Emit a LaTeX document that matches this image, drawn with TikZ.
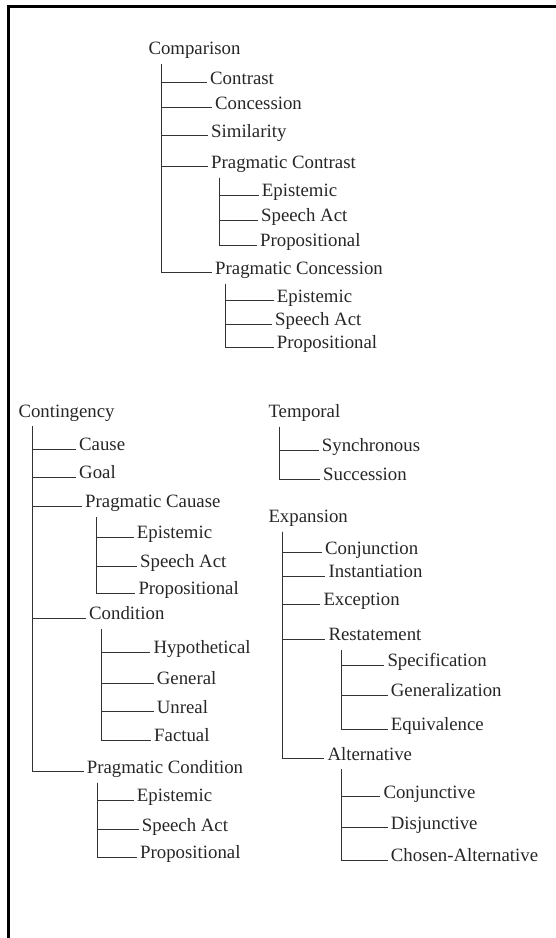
\documentclass[tikz,border=0pt]{standalone}
\usepackage{fontspec}
\setmainfont{Liberation Serif}

\begin{document}
\begin{tikzpicture}[
    x=1pt, y=-1pt,
    leaf/.style={anchor=west, inner xsep=3pt, inner ysep=0pt, text height=12.6pt, text depth=9pt, font=\fontsize{18.8}{22}\selectfont, text=black!85},
    branch/.style={draw=black!80, line width=1pt}
]
\useasboundingbox (0,0) rectangle (556,938);
\draw[line width=3pt] (8.5,938) -- (8.5,6.3) -- (556,6.3);

% Comparison
\node[leaf] (cmp) at (145.3,53.1) {Comparison};
\node[leaf] (ctr) at (207,82.7) {Contrast};
\node[leaf] (cnc) at (212,107.7) {Concession};
\node[leaf] (sim) at (208,135.7) {Similarity};
\node[leaf] (prc) at (208,166.7) {Pragmatic Contrast};
\node[leaf] (prcE) at (258.7,195) {Epistemic};
\node[leaf] (prcS) at (258,220) {Speech Act};
\node[leaf] (prcP) at (257,245) {Propositional};
\node[leaf] (pcn) at (212,272.7) {Pragmatic Concession};
\node[leaf] (pcnE) at (273.7,300.7) {Epistemic};
\node[leaf] (pcnS) at (272,324) {Speech Act};
\node[leaf] (pcnP) at (273.7,347) {Propositional};

\draw[branch] ([xshift=16.4pt]cmp.south west) |- (ctr.west);
\draw[branch] ([xshift=16.4pt]cmp.south west) |- (cnc.west);
\draw[branch] ([xshift=16.4pt]cmp.south west) |- (sim.west);
\draw[branch] ([xshift=16.4pt]cmp.south west) |- (prc.west);
\draw[branch] ([xshift=16.4pt]cmp.south west) |- (pcn.west);
\draw[branch] ([xshift=11pt]prc.south west) |- (prcE.west);
\draw[branch] ([xshift=11pt]prc.south west) |- (prcS.west);
\draw[branch] ([xshift=11pt]prc.south west) |- (prcP.west);
\draw[branch] ([xshift=13pt]pcn.south west) |- (pcnE.west);
\draw[branch] ([xshift=13pt]pcn.south west) |- (pcnS.west);
\draw[branch] ([xshift=13pt]pcn.south west) |- (pcnP.west);

% Contingency
\node[leaf] (cng) at (15.3,415.4) {Contingency};
\node[leaf] (cau) at (76,449) {Cause};
\node[leaf] (gol) at (76,477) {Goal};
\node[leaf] (pca) at (82,506) {Pragmatic Cauase};
\node[leaf] (pcaE) at (133.7,537) {Epistemic};
\node[leaf] (pcaS) at (137,566) {Speech Act};
\node[leaf] (pcaP) at (135.3,593) {Propositional};
\node[leaf] (cnd) at (86,618) {Condition};
\node[leaf] (hyp) at (150.3,652) {Hypothetical};
\node[leaf] (gen) at (153.7,683) {General};
\node[leaf] (unr) at (153.7,711.7) {Unreal};
\node[leaf] (fac) at (151,740) {Factual};
\node[leaf] (pcd) at (83.7,771.7) {Pragmatic Condition};
\node[leaf] (pcdE) at (133.7,800) {Epistemic};
\node[leaf] (pcdS) at (138.7,829.3) {Speech Act};
\node[leaf] (pcdP) at (137,857) {Propositional};

\draw[branch] ([xshift=17pt]cng.south west) |- (cau.west);
\draw[branch] ([xshift=17pt]cng.south west) |- (gol.west);
\draw[branch] ([xshift=17pt]cng.south west) |- (pca.west);
\draw[branch] ([xshift=17pt]cng.south west) |- (cnd.west);
\draw[branch] ([xshift=17pt]cng.south west) |- (pcd.west);
\draw[branch] ([xshift=14pt]pca.south west) |- (pcaE.west);
\draw[branch] ([xshift=14pt]pca.south west) |- (pcaS.west);
\draw[branch] ([xshift=14pt]pca.south west) |- (pcaP.west);
\draw[branch] ([xshift=15pt]cnd.south west) |- (hyp.west);
\draw[branch] ([xshift=15pt]cnd.south west) |- (gen.west);
\draw[branch] ([xshift=15pt]cnd.south west) |- (unr.west);
\draw[branch] ([xshift=15pt]cnd.south west) |- (fac.west);
\draw[branch] ([xshift=13.6pt]pcd.south west) |- (pcdE.west);
\draw[branch] ([xshift=13.6pt]pcd.south west) |- (pcdS.west);
\draw[branch] ([xshift=13.6pt]pcd.south west) |- (pcdP.west);

% Temporal
\node[leaf] (tmp) at (265.3,415.7) {Temporal};
\node[leaf] (syn) at (318.7,450) {Synchronous};
\node[leaf] (suc) at (320,479) {Succession};

\draw[branch] ([xshift=14pt]tmp.south west) |- (syn.west);
\draw[branch] ([xshift=14pt]tmp.south west) |- (suc.west);

% Expansion
\node[leaf] (exp) at (265.3,520.7) {Expansion};
\node[leaf] (cnj) at (322,552.3) {Conjunction};
\node[leaf] (ins) at (325.3,576) {Instantiation};
\node[leaf] (exc) at (320.3,604) {Exception};
\node[leaf] (rst) at (325.3,639) {Restatement};
\node[leaf] (spc) at (384.3,665) {Specification};
\node[leaf] (gnr) at (387.7,695) {Generalization};
\node[leaf] (eqv) at (387.7,729) {Equivalence};
\node[leaf] (alt) at (324.3,758.3) {Alternative};
\node[leaf] (cjv) at (380.3,796.7) {Conjunctive};
\node[leaf] (djv) at (387.7,827.3) {Disjunctive};
\node[leaf] (cho) at (387.7,860) {Chosen-Alternative};

\draw[branch] ([xshift=17pt]exp.south west) |- (cnj.west);
\draw[branch] ([xshift=17pt]exp.south west) |- (ins.west);
\draw[branch] ([xshift=17pt]exp.south west) |- (exc.west);
\draw[branch] ([xshift=17pt]exp.south west) |- (rst.west);
\draw[branch] ([xshift=17pt]exp.south west) |- (alt.west);
\draw[branch] ([xshift=15.7pt]rst.south west) |- (spc.west);
\draw[branch] ([xshift=15.7pt]rst.south west) |- (gnr.west);
\draw[branch] ([xshift=15.7pt]rst.south west) |- (eqv.west);
\draw[branch] ([xshift=16.7pt]alt.south west) |- (cjv.west);
\draw[branch] ([xshift=16.7pt]alt.south west) |- (djv.west);
\draw[branch] ([xshift=16.7pt]alt.south west) |- (cho.west);
\end{tikzpicture}
\end{document}
